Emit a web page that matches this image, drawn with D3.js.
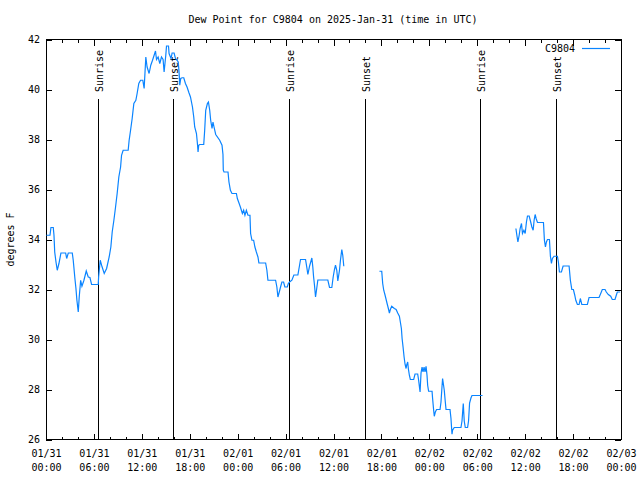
<!DOCTYPE html>
<html>
<head>
<meta charset="utf-8">
<script src="https://cdn.jsdelivr.net/npm/d3@7"></script>
<style>
  html, body { margin: 0; padding: 0; background: #fff; }
  svg { display: block; }
  text { font-family: "DejaVu Sans Mono", monospace; font-size: 10px; fill: #000; }
</style>
</head>
<body>
<svg id="chart" width="640" height="480"></svg>
<script>
// ---- data (hours since 2025-01-31 00:00 UTC, dew point in °F; null = gap) ----
const hours = [
  0.05,0.5,0.62,0.91,1.0,1.09,1.25,1.41,1.62,1.87,2.46,2.59,2.79,3.29,3.41,3.62,3.75,3.87,4.04,4.16,
  4.34,4.5,4.75,5.04,5.29,5.5,5.71,6.54,6.59,6.79,6.96,7.29,7.59,7.91,8.12,8.29,8.5,8.71,8.91,9.12,
  9.34,9.46,9.66,10.29,10.41,10.59,10.79,11.0,11.25,11.41,11.62,11.84,12.12,12.29,12.5,12.66,12.91,13.12,13.34,13.71,
  13.84,14.04,14.25,14.46,14.66,14.79,15.0,15.09,15.34,15.41,15.66,15.79,16.04,16.21,16.41,16.56,16.66,16.75,16.87,17.04,
  17.25,17.46,17.66,17.91,18.09,18.34,18.5,18.62,18.84,18.96,19.04,19.12,19.25,19.75,19.87,20.0,20.21,20.34,20.5,20.62,
  20.79,20.91,21.04,21.25,21.75,22.04,22.16,22.2,22.29,22.79,22.91,23.09,23.29,23.84,23.96,24.12,24.34,24.59,24.75,24.91,
  25.09,25.29,25.54,25.62,25.79,26.0,26.16,26.34,26.54,26.66,27.5,27.66,27.79,28.75,28.91,29.04,29.21,29.37,29.54,29.75,
  29.91,30.21,30.34,30.5,30.79,31.04,31.54,31.75,31.87,32.5,32.66,32.79,33.0,33.21,33.29,33.41,33.5,33.62,33.75,33.84,
  34.04,35.09,35.29,35.5,35.79,35.96,36.12,36.25,36.41,36.54,36.75,36.87,37.04,37.16,37.29,
  37.3,
  41.75,42.04,42.16,42.29,42.46,42.59,42.71,42.87,43.0,43.12,43.29,43.62,43.84,44.04,44.25,44.37,44.5,44.59,44.71,44.84,
  44.96,45.09,45.16,45.29,45.37,45.5,45.62,46.04,46.21,46.54,46.66,46.75,46.84,46.96,47.09,47.21,47.34,47.46,47.59,47.71,
  47.79,47.91,48.34,48.41,48.54,48.62,48.75,48.91,49.34,49.46,49.59,49.66,49.75,49.87,50.0,50.09,50.59,50.71,50.79,50.84,
  50.91,51.12,51.96,52.09,52.25,52.37,52.5,52.79,52.91,53.04,53.21,53.34,54.66,
  54.7,
  58.84,58.96,59.09,59.25,59.37,59.54,59.66,59.84,60.0,60.16,60.29,60.5,60.66,60.84,61.0,61.12,61.25,61.37,61.54,62.29,
  62.41,62.54,62.66,62.79,63.04,63.16,63.29,63.41,63.62,64.04,64.16,64.29,64.54,64.75,65.5,65.66,65.84,66.04,66.21,66.34,
  66.54,66.75,66.91,67.09,67.29,67.79,68.0,69.25,69.46,69.66,70.0,70.16,70.41,70.71,70.91,71.25,71.41,71.54,71.9
];
const dewF = [
  34.17,34.17,34.48,34.48,34.17,33.5,33.1,32.77,33.04,33.46,33.46,33.24,33.46,33.46,33.17,32.44,32.04,31.57,31.1,31.7,
  32.37,32.13,32.37,32.74,32.5,32.48,32.2,32.2,32.5,33.17,32.97,32.64,32.84,33.3,33.7,34.3,34.77,35.3,35.84,36.5,
  36.9,37.37,37.57,37.57,37.97,38.37,38.84,39.44,39.57,39.84,40.24,40.37,40.37,40.04,41.3,40.9,40.64,40.97,41.17,41.54,
  41.2,41.3,41.04,41.3,41.2,40.7,41.37,41.74,41.74,41.44,41.24,41.46,41.46,41.24,41.17,41.1,40.7,40.17,40.44,40.47,
  40.47,40.24,40.1,39.86,39.7,39.3,38.9,38.5,38.24,37.84,37.5,37.77,37.8,37.8,38.37,39.17,39.44,39.5,39.17,38.77,
  38.44,38.7,38.5,38.2,37.97,37.77,37.4,36.77,36.7,36.7,36.3,35.97,35.84,35.84,35.64,35.5,35.3,35.04,35.17,34.97,
  35.17,34.97,34.97,34.24,33.97,33.97,33.7,33.5,33.3,33.06,33.06,32.77,32.37,32.37,32.1,31.7,31.9,32.1,32.3,32.3,
  32.1,32.1,32.24,32.3,32.37,32.58,32.58,32.97,33.2,33.2,32.88,32.6,32.93,33.17,33.26,32.9,32.53,32.17,31.7,31.9,
  32.38,32.38,32.38,32.08,32.08,32.5,32.8,32.97,32.77,32.34,32.77,33.17,33.6,33.37,32.93,
  null,
  32.73,32.73,32.24,31.97,31.77,31.6,31.44,31.24,31.06,31.2,31.33,31.24,31.2,31.06,30.93,30.7,30.44,30.04,29.7,29.3,
  29.01,28.84,28.97,29.1,28.84,28.57,28.4,28.4,28.62,28.62,28.37,28.13,27.9,28.66,28.9,28.7,28.9,28.7,28.93,28.57,
  28.17,27.93,27.93,27.64,27.17,26.93,27.1,27.2,27.2,27.5,28.13,28.44,28.24,27.97,27.5,27.2,27.2,26.84,26.44,26.21,
  26.37,26.48,26.48,26.74,27.44,26.74,26.48,26.48,26.74,27.46,27.66,27.76,27.76,
  null,
  34.44,34.17,33.9,34.17,34.44,34.64,34.24,34.37,34.24,34.7,34.94,34.94,34.74,34.5,34.37,34.77,35.0,34.84,34.68,34.68,
  33.97,33.7,33.9,34.0,34.0,33.33,33.04,33.24,33.33,33.33,33.1,32.7,32.7,32.94,32.94,32.37,32.0,32.0,31.77,31.57,
  31.4,31.4,31.64,31.4,31.4,31.4,31.68,31.68,31.84,32.0,32.0,31.9,31.8,31.73,31.6,31.6,31.77,31.9,31.9
];
const sunEventHours = [6.55, 15.92, 30.42, 39.95, 54.38, 63.92];
const sunEventLabels = ["Sunrise", "Sunset", "Sunrise", "Sunset", "Sunrise", "Sunset"];
const yTicks = [26, 28, 30, 32, 34, 36, 38, 40, 42];
const seriesName = "C9804";
const titleText = "Dew Point for C9804 on 2025-Jan-31 (time in UTC)";
const yLabelText = "degrees F";

// ---- layout ----
const W = 640, H = 480;
const L = 46, R = 621, T = 39.5, B = 439.5;
const t0 = Date.UTC(2025, 0, 31);
const toDate = h => new Date(t0 + h * 3600e3);

const svg = d3.select("#chart");
const x = d3.scaleUtc().domain([toDate(0), toDate(72)]).range([L, R]);
const y = d3.scaleLinear().domain([26, 42]).range([B, T]);

// minor ticks (every 2h) bottom & top
const minorTicks = d3.utcHour.every(2).range(toDate(0), toDate(72.01)).filter(d => d.getUTCHours() % 6 !== 0);
svg.append("g").attr("transform", `translate(0,${B})`)
  .call(d3.axisBottom(x).tickValues(minorTicks).tickSize(-3).tickFormat(""))
  .call(g => g.select(".domain").remove());
svg.append("g").attr("transform", `translate(0,${T})`)
  .call(d3.axisTop(x).tickValues(minorTicks).tickSize(-3).tickFormat(""))
  .call(g => g.select(".domain").remove());

// major ticks bottom with two-line labels
const majorTicks = d3.utcHour.every(6).range(toDate(0), toDate(72.01));
const fmtDay = d3.utcFormat("%m/%d"), fmtTime = d3.utcFormat("%H:%M");
const xAxisB = svg.append("g").attr("transform", `translate(0,${B})`)
  .call(d3.axisBottom(x).tickValues(majorTicks).tickSize(-6).tickPadding(8).tickFormat(""));
xAxisB.select(".domain").remove();
xAxisB.selectAll(".tick text").each(function(d) {
  const t = d3.select(this).attr("y", null).attr("dy", null);
  t.append("tspan").attr("x", 0).attr("y", 17).text(fmtDay(d));
  t.append("tspan").attr("x", 0).attr("y", 31).text(fmtTime(d));
});
svg.append("g").attr("transform", `translate(0,${T})`)
  .call(d3.axisTop(x).tickValues(majorTicks).tickSize(-6).tickFormat(""))
  .call(g => g.select(".domain").remove());

// y axis left with labels, right mirrored
svg.append("g").attr("transform", `translate(${L},0)`)
  .call(d3.axisLeft(y).tickValues(yTicks).tickSize(-6).tickPadding(6).tickFormat(d3.format("d")))
  .call(g => g.select(".domain").remove());
svg.append("g").attr("transform", `translate(${R},0)`)
  .call(d3.axisRight(y).tickValues(yTicks).tickSize(-6).tickFormat(""))
  .call(g => g.select(".domain").remove());

svg.selectAll(".tick line").attr("stroke", "#000").attr("shape-rendering", "crispEdges");
svg.selectAll(".tick text").style("font-family", "DejaVu Sans Mono, monospace").style("font-size", "10px").attr("fill", "#000");

// frame
svg.append("rect").attr("x", L).attr("y", T).attr("width", R - L).attr("height", B - T)
  .attr("fill", "none").attr("stroke", "#000").attr("stroke-width", 1).attr("shape-rendering", "crispEdges");

// sunrise / sunset markers
const ev = svg.append("g");
sunEventHours.forEach((h, i) => {
  const xp = Math.round(x(toDate(h))) + 0.5;
  ev.append("line").attr("x1", xp).attr("x2", xp).attr("y1", 99).attr("y2", B)
    .attr("stroke", "#000").attr("stroke-width", 1);
  ev.append("text").attr("transform", `translate(${xp + 4},92) rotate(-90)`)
    .attr("text-anchor", "start").text(sunEventLabels[i]);
});

// data line
const pts = hours.map((h, i) => ({ t: toDate(h), v: dewF[i] }));
const line = d3.line().defined(d => d.v !== null).x(d => x(d.t)).y(d => y(d.v));
svg.append("path").datum(pts).attr("d", line)
  .attr("fill", "none").attr("stroke", "#0a84ff").attr("stroke-width", 1.2);

// legend
svg.append("text").attr("x", 575).attr("y", 52).attr("text-anchor", "end").text(seriesName);
svg.append("line").attr("x1", 582).attr("x2", 610).attr("y1", 48.5).attr("y2", 48.5)
  .attr("stroke", "#0a84ff").attr("stroke-width", 1.2);

// title & y label
svg.append("text").attr("x", 333).attr("y", 23).attr("text-anchor", "middle").text(titleText);
svg.append("text").attr("transform", `translate(14,${(T + B) / 2}) rotate(-90)`)
  .attr("text-anchor", "middle").text(yLabelText);
</script>
</body>
</html>
